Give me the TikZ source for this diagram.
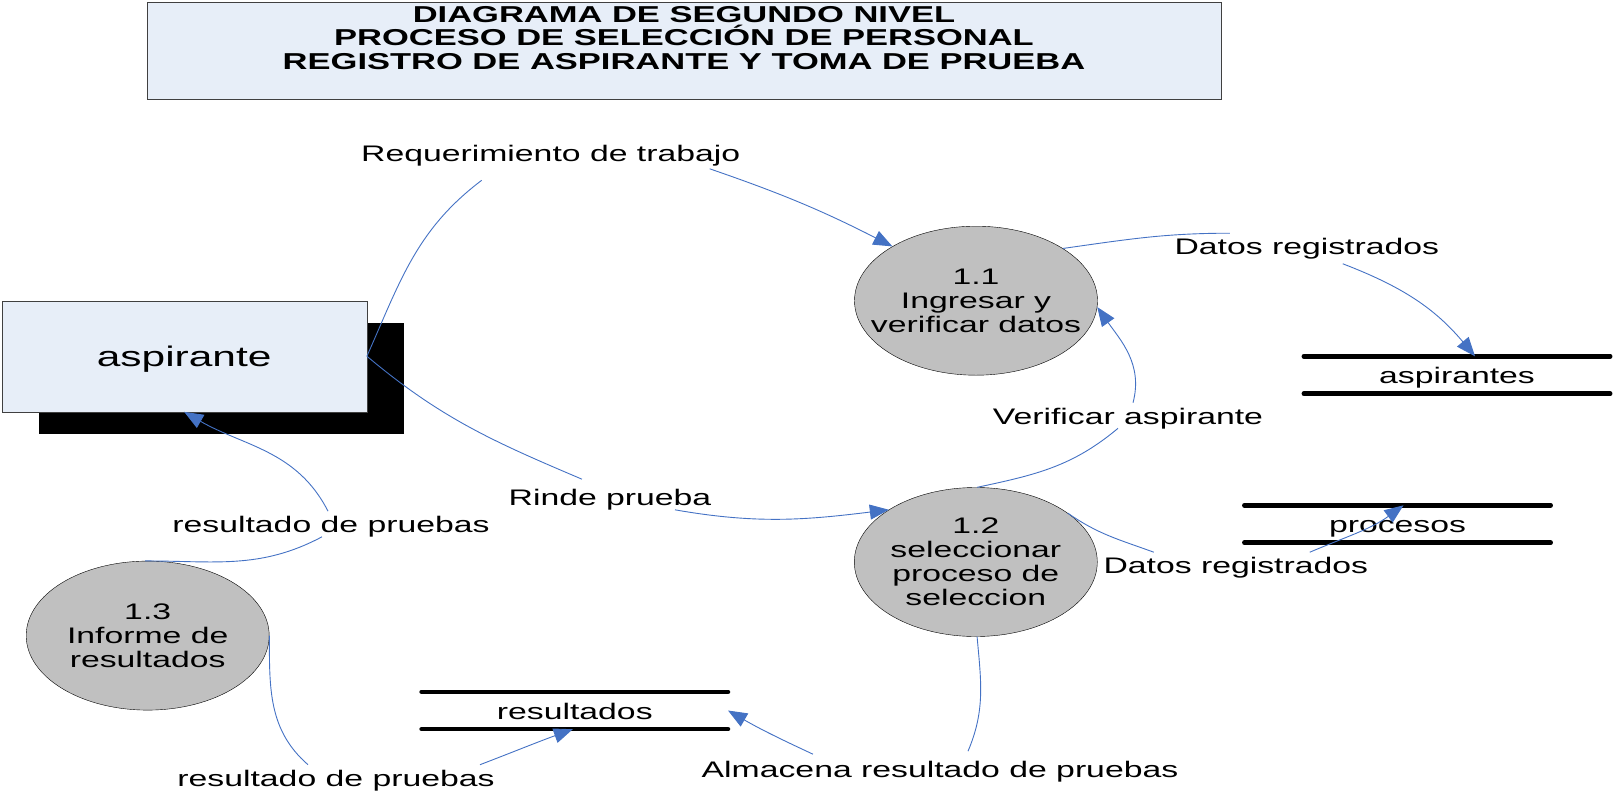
\documentclass[tikz,border=0pt]{standalone}
\usepackage{fontspec}
\setmainfont[FakeStretch=1.5]{Liberation Sans}
\usepackage{tikz}
\usetikzlibrary{arrows.meta,shapes.geometric,shadows}

\definecolor{flujo}{RGB}{68,114,196}
\definecolor{fondo}{RGB}{231,238,248}
\definecolor{gris}{RGB}{192,192,192}

\begin{document}
\begin{tikzpicture}[x=1pt, y=1pt,
  every node/.style = {font=\fontsize{22.5}{24}\selectfont},
  caja/.style = {draw=black!75, fill=fondo},
  proceso/.style = {ellipse, draw, fill=gris, minimum width=243pt, minimum height=149pt, inner sep=0pt},
  almacen/.style = {minimum width=306pt, minimum height=37pt, inner sep=0pt, text height=20pt, text depth=2.4pt},
  etiqueta/.style = {inner sep=2pt, text height=19.5pt, text depth=1.7pt},
  linea/.style = {draw=flujo, line width=0.9pt},
  flecha/.style = {linea, -{Triangle[length=19pt,width=15pt]}},
  rayas/.style = {line width=4.5pt, line cap=round}]

  \useasboundingbox (0,0) rectangle (1614,-795);

  \node[caja, minimum width=1074pt, minimum height=97pt] (marco) at (684,-50.5) {};
  \node[font=\fontsize{23}{23.7}\selectfont\bfseries, align=center] (titulo) at (684,-38)
    {DIAGRAMA DE SEGUNDO NIVEL\\PROCESO DE SELECCIÓN DE PERSONAL\\REGISTRO DE ASPIRANTE Y TOMA DE PRUEBA};

  \node[caja, minimum width=365pt, minimum height=111pt, text height=26.4pt, text depth=5.9pt,
        drop shadow={shadow xshift=37pt, shadow yshift=-22.5pt, fill=black, opacity=1},
        font=\fontsize{28.3}{30}\selectfont] (asp) at (184.2,-356.2) {aspirante};

  \node[proceso, label={[align=center]center:1.1\\Ingresar y\\verificar datos}] (p11) at (976,-300.7) {};
  \node[proceso, label={[align=center]center:1.2\\seleccionar\\proceso de\\seleccion}] (p12) at (975.8,-562) {};
  \node[proceso, label={[align=center]center:1.3\\Informe de\\resultados}] (p13) at (147.7,-635.6) {};

  \node[almacen] (sasp) at (1457,-375) {aspirantes};
  \node[almacen] (sproc) at (1397.5,-524) {procesos};
  \node[almacen] (sres) at (574.8,-710.5) {resultados};
  \foreach \s in {sasp,sproc,sres}
    \draw[rayas] (\s.north west) -- (\s.north east) (\s.south west) -- (\s.south east);

  \node[etiqueta] (req) at (550.7,-153) {Requerimiento de trabajo};
  \node[etiqueta] (dr1) at (1306.8,-246) {Datos registrados};
  \node[etiqueta] (va) at (1128,-415.5) {Verificar aspirante};
  \node[etiqueta] (rp) at (610,-497) {Rinde prueba};
  \node[etiqueta] (rl) at (331,-524) {resultado de pruebas};
  \node[etiqueta] (dr2) at (1235.8,-565) {Datos registrados};
  \node[etiqueta] (rb) at (336,-777.5) {resultado de pruebas};
  \node[etiqueta] (alm) at (940,-769) {Almacena resultado de pruebas};

  \draw[linea] (asp.east) to[out=66,in=-143] ([shift={(-69,-14.5)}]req.south);
  \draw[flecha] ([shift={(159,-3)}]req.south) to[out=-19,in=153] (p11.147);

  \draw[linea] (p11.31) to[out=8,in=180] ([xshift=-77]dr1.north);
  \draw[flecha] ([shift={(36,-5)}]dr1.south) to[out=-21,in=130] ([xshift=18]sasp.north);

  \draw[linea] (p12.89) to[out=12,in=220] ([xshift=-10]va.south);
  \draw[flecha] ([xshift=5]va.north) to[out=75,in=-55] (p11.-3);

  \draw[linea] (asp.east) to[out=-40,in=157] ([shift={(-28,5)}]rp.north);
  \draw[flecha] ([xshift=65]rp.south) to[out=-10,in=187] (p12.149);

  \draw[linea] (p13.92) to[out=0,in=208] ([xshift=-9]rl.south);
  \draw[flecha] ([xshift=-3]rl.north) to[out=117,in=-30] (asp.south);

  \draw[linea] (p13.east) to[out=-90,in=139] ([xshift=-28]rb.north);
  \draw[flecha] ([xshift=144]rb.north) to[out=21,in=200] ([xshift=-2]sres.south);

  \draw[linea] (p12.-89) to[out=-85,in=67] ([shift={(28,5)}]alm.north);
  \draw[flecha] ([shift={(-127,2)}]alm.north) to[out=155,in=-30] (sres.east);

  \draw[linea] (p12.28) to[out=-35,in=160] ([xshift=-82]dr2.north);
  \draw[flecha] ([xshift=74]dr2.north) to[out=23,in=216] ([xshift=6]sproc.north);
\end{tikzpicture}
\end{document}
